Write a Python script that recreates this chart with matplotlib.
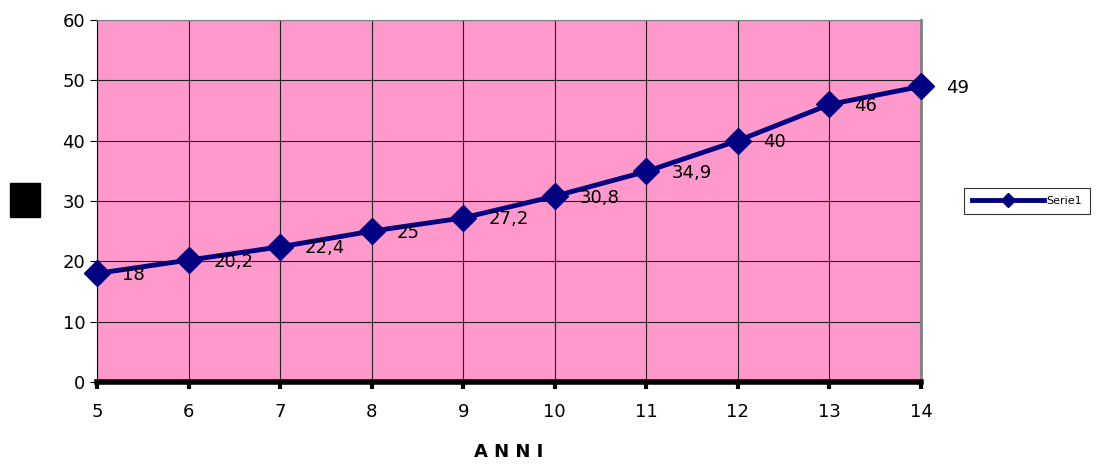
import matplotlib.pyplot as plt
from matplotlib.patches import Rectangle

plt.rcParams['font.family'] = ['DejaVu Sans']

anni = [5, 6, 7, 8, 9, 10, 11, 12, 13, 14]
valori = [18, 20.2, 22.4, 25, 27.2, 30.8, 34.9, 40, 46, 49]
etichette = ['18', '20,2', '22,4', '25', '27,2', '30,8', '34,9', '40', '46', '49']

fig = plt.figure(figsize=(11.02, 4.65), dpi=100)
ax = fig.add_axes([0.088, 0.1785, 0.7478, 0.7785])
ax.set_facecolor('#FF99CC')

ax.plot(anni, valori, color='#000080', lw=3.5, marker='D', markersize=13.5,
        label='Serie1', zorder=3, clip_on=False)

for x, y, t in zip(anni, valori, etichette):
    ax.annotate(t, (x, y), xytext=(18, -1), textcoords='offset points',
                ha='left', va='center', fontsize=13, color='black', zorder=4)

ax.set_xlim(5, 14)
ax.set_ylim(0, 60)
ax.set_xticks(anni)
ax.set_yticks(range(0, 61, 10))
ax.grid(True, color='#202020', lw=0.8)
ax.set_axisbelow(True)

ax.spines['left'].set_color('black')
ax.spines['bottom'].set_color('black')
ax.spines['bottom'].set_linewidth(4)
ax.spines['top'].set_color('#808080')
ax.spines['right'].set_color('#808080')
ax.spines['right'].set_linewidth(2)
ax.tick_params(axis='both', labelsize=13, colors='black', length=5)
ax.tick_params(axis='x', width=3, pad=10)

ax.set_xlabel('A N N I', fontsize=13, fontweight='bold', labelpad=16)

# black box where the vertical axis title sits
fig.patches.append(Rectangle((10 / 1102, 1 - 217 / 465), 30 / 1102, 34 / 465,
                             transform=fig.transFigure, color='black'))

leg = ax.legend(loc='center left', bbox_to_anchor=(1.052, 0.5), fontsize=8,
                frameon=True, fancybox=False, edgecolor='black',
                handlelength=6.5, handletextpad=0.2, markerscale=0.55,
                borderpad=0.7, borderaxespad=0)
leg.get_frame().set_linewidth(0.8)

fig.savefig('out.png', dpi=100)
